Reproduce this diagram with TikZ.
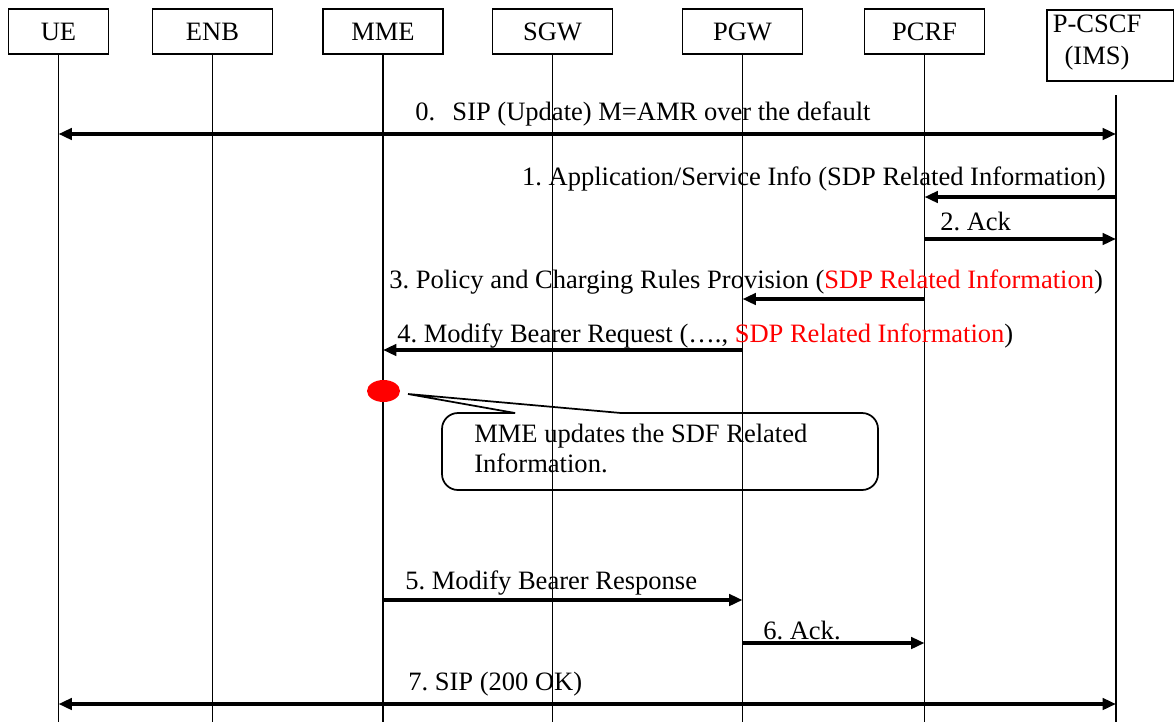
\documentclass[tikz,border=0pt]{standalone}
\usepackage{fontspec}
\setmainfont{Liberation Serif}
\usetikzlibrary{arrows.meta,shapes.geometric}
\frenchspacing
\begin{document}
\begin{tikzpicture}[x=0.75pt,y=-0.75pt,
  box/.style={draw,line width=1.3pt,minimum height=33.75pt,inner sep=0pt},
  life/.style={line width=1.3pt},
  msg/.style={line width=2.6pt,>={Triangle[length=10pt,width=8.5pt]}},
  lbl/.style={inner sep=0pt}]
\tikzset{every node/.append style={font=\fontsize{19.9}{24}\selectfont}}
\useasboundingbox (0,0) rectangle (1174,722);
% entities
\node[box,minimum width=75pt] (ue) at (58.5,31.5) {UE};
\foreach \name/\txt/\x in {enb/ENB/212.5,mme/MME/383,sgw/SGW/552.5,pgw/PGW/742.5,pcrf/PCRF/924.5}
  \node[box,minimum width=90pt] (\name) at (\x,31.5) {\txt};
\node[box,minimum width=95.25pt,minimum height=53.25pt,anchor=north west] (pcscf) at (1046,9) {};
\node[lbl,align=center] (ims) at (1097,43) {P-CSCF\\(IMS)};
\coordinate (pc) at (1116,95);
% lifelines
\foreach \n in {ue,enb,mme,sgw,pgw,pcrf}
  \draw[life] (\n.south) -- (\n |- 0,722);
\draw[life] (pc) -- (pc |- 0,722);
% messages
\draw[msg,<->] (ue |- 0,134) -- (pc |- 0,134);
\node[lbl,anchor=base west] (m0) at (415,120) {0.\hspace{13pt}SIP (Update) M=AMR over the default};
\draw[msg,->] (pc |- 0,197) -- (pcrf |- 0,197);
\node[lbl,anchor=base east] (m1) at (1106,185) {1. Application/Service Info (SDP Related Information)};
\draw[msg,->] (pcrf |- 0,239) -- (pc |- 0,239);
\node[lbl,anchor=base west] (m2) at (940,230) {2. Ack};
\draw[msg,->] (pcrf |- 0,299) -- (pgw |- 0,299);
\node[lbl,anchor=base west] (m3) at (389,288) {3. Policy and Charging Rules Provision (\textcolor{red}{SDP Related Information})};
\draw[msg,->] (pgw |- 0,350) -- (mme |- 0,350);
\node[lbl,anchor=base west] (m4) at (397,342) {4. Modify Bearer Request (…., \textcolor{red}{SDP Related Information})};
% note
\node[ellipse,fill=red,minimum width=24.75pt,minimum height=16.5pt,inner sep=0pt] (dot) at (383.5,391) {};
\node[lbl,align=left,anchor=base west,font=\fontsize{19.9}{22.5}\selectfont] (note) at (474,472) {MME updates the SDF Related\\Information.};
\coordinate (tip) at (408,394);
\draw[line width=1.3pt,rounded corners=12pt] (621,413) -- (878,413) -- (878,490) -- (442,490) -- (442,413) -- (515,413);
\draw[line width=1.3pt] (515,413) -- (tip) -- (621,413);
% after update
\draw[msg,->] (mme |- 0,600) -- (pgw |- 0,600);
\node[lbl,anchor=base west] (m5) at (405,589) {5. Modify Bearer Response};
\draw[msg,->] (pgw |- 0,643) -- (pcrf |- 0,643);
\node[lbl,anchor=base west] (m6) at (763,639) {6. Ack.};
\draw[msg,<->] (ue |- 0,704) -- (pc |- 0,704);
\node[lbl,anchor=base west] (m7) at (408,690) {7. SIP (200 OK)};
\end{tikzpicture}
\end{document}
